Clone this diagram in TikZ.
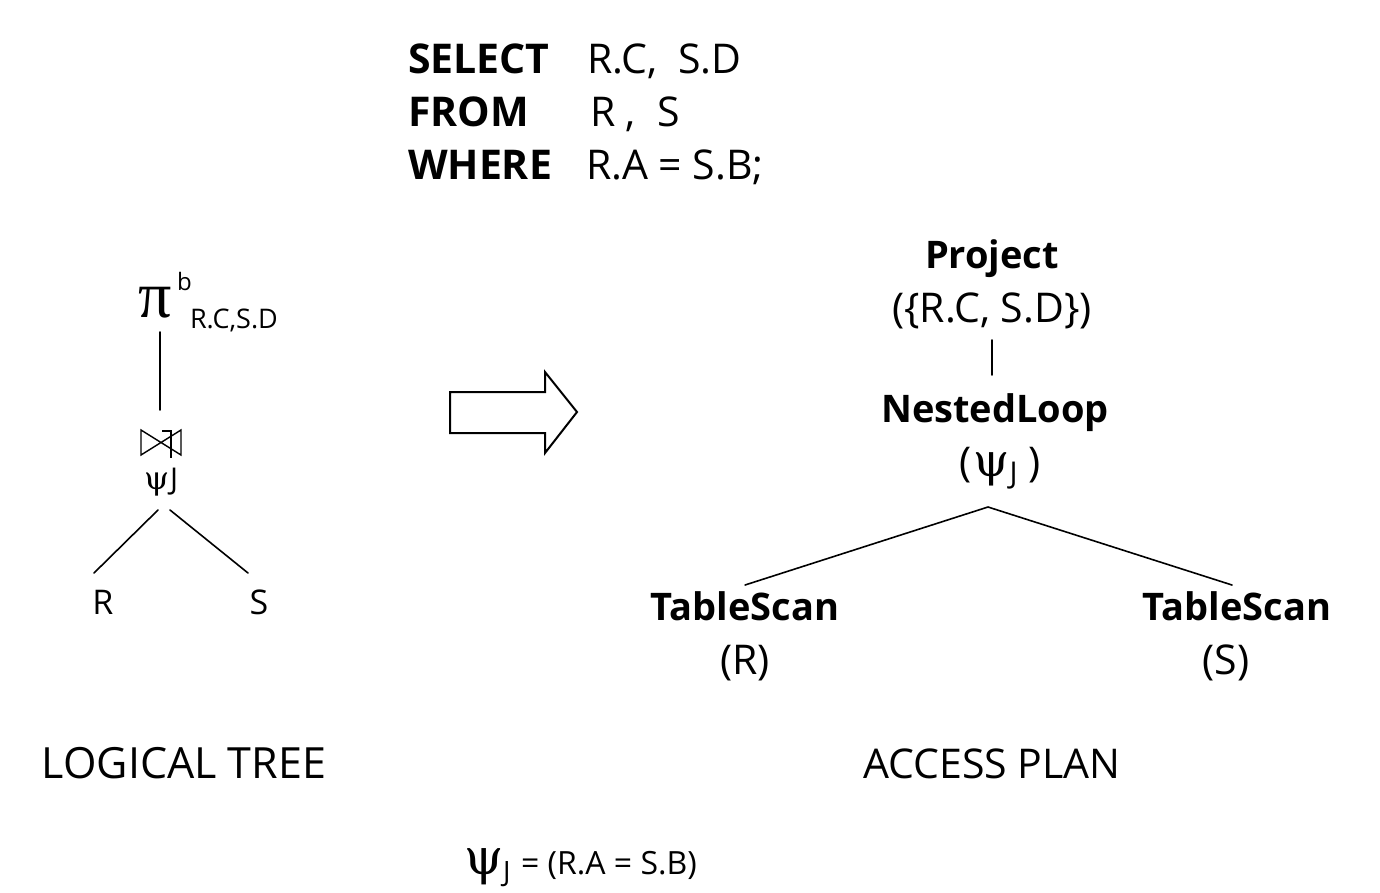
\documentclass[tikz,border=0pt]{standalone}
\usepackage{fontspec}
\setmainfont{Open Sans}
\newfontfamily\grk{DejaVu Serif}
\newfontfamily\grkpi{Liberation Serif}
\begin{document}
\begin{tikzpicture}[x=1pt,y=-1pt,
  txt/.style={inner sep=0pt, outer sep=0pt},
  big/.style={txt, font=\fontsize{41}{48}\selectfont},
  bigb/.style={txt, font=\fontsize{41}{48}\selectfont\bfseries},
  planb/.style={txt, font=\fontsize{38}{44}\selectfont\bfseries},
  conn/.style={line width=1.6pt, line cap=round},
]
\useasboundingbox[fill=white] (0,0) rectangle (1380,892);

% SQL query
\node[bigb, anchor=base west] (sel) at (408,73) {SELECT};
\node[big, anchor=base west] (selv) at (587,73) {R.C,\ \ S.D};
\node[bigb, anchor=base west] (frm) at (408,126) {FROM};
\node[big, anchor=base west] (frmv) at (590,126) {R , \ S};
\node[bigb, anchor=base west] (whr) at (408,179) {WHERE};
\node[big, anchor=base west] (whrv) at (586,179) {R.A = S.B;};

% Logical tree
\node[txt, anchor=base west, font=\fontsize{66}{72}\selectfont\grkpi] (pi) at (138,317) {π};
\node[txt, anchor=base west, font=\fontsize{24}{28}\selectfont] (pib) at (177,290) {b};
\node[txt, anchor=base west, font=\fontsize{27}{30}\selectfont] (pisub) at (190,328) {R.C,S.D};
\coordinate (pibot) at (160,332);
\coordinate (jtop) at (160,410);
\draw[conn] (pibot) -- (jtop);

% join symbol
\coordinate (j1) at (141,430);
\coordinate (j2) at (141,455);
\coordinate (j3) at (181,430);
\coordinate (j4) at (181,455);
\draw[line width=1.4pt, line join=miter] (j1) -- (j4) -- (j3) -- (j2) -- cycle;
\coordinate (s1) at (162,431);
\coordinate (s2) at (171,431);
\coordinate (s3) at (171,458);
\draw[line width=1.4pt] (s1) -- (s2) -- (s3);
\node[txt, anchor=base west, font=\fontsize{30}{34}\selectfont] (psij) at (144,489) {{\grk\fontsize{32}{34}\selectfont ψ}\hspace{1pt}J};

\node[txt, anchor=base, font=\fontsize{34}{40}\selectfont] (R) at (103,614) {R};
\node[txt, anchor=base, font=\fontsize{34}{40}\selectfont] (S) at (259,614) {S};
\coordinate (lj1) at (158,510);
\coordinate (lr) at (94,573);
\coordinate (lj2) at (170,510);
\coordinate (ls) at (248,573);
\draw[conn] (lj1) -- (lr);
\draw[conn] (lj2) -- (ls);

\node[txt, anchor=base, font=\fontsize{43}{50}\selectfont] (lt) at (184,778) {LOGICAL TREE};

% big arrow
\coordinate (a1) at (450,392);
\coordinate (a2) at (545,392);
\coordinate (a3) at (545,372);
\coordinate (a4) at (577,412);
\coordinate (a5) at (545,453);
\coordinate (a6) at (545,433);
\coordinate (a7) at (450,433);
\draw[line width=2pt, line join=miter] (a1) -- (a2) -- (a3) -- (a4) -- (a5) -- (a6) -- (a7) -- cycle;

% Access plan
\node[planb, anchor=base] (proj) at (992,268) {Project};
\node[big, anchor=base] (projv) at (992,322) {(\{R.C, S.D\})};
\coordinate (pl1) at (992,340);
\coordinate (pl2) at (992,375);
\draw[conn] (pl1) -- (pl2);
\node[planb, anchor=base] (nl) at (995,422) {NestedLoop};
\node[big, anchor=base] (nlv) at (1000,476) {(\hspace{2pt}{\grk\fontsize{46}{50}\selectfont ψ}\raisebox{-7pt}{\fontsize{30}{32}\selectfont J}\ )};
\coordinate (apex) at (988,507);
\coordinate (tl) at (745,585);
\coordinate (tr) at (1232,585);
\draw[conn] (tl) -- (apex) -- (tr);
\node[planb, anchor=base] (ts1) at (745,620) {TableScan};
\node[big, anchor=base] (ts1v) at (745,674) {(R)};
\node[planb, anchor=base] (ts2) at (1237,620) {TableScan};
\node[big, anchor=base] (ts2v) at (1226,674) {(S)};

\node[big, anchor=base] (ap) at (992,778) {ACCESS PLAN};

% footnote
\node[txt, anchor=base west, font=\fontsize{32}{36}\selectfont] (foot) at (464,874) {{\grk\fontsize{50}{50}\selectfont ψ}\raisebox{-7pt}{\fontsize{28}{30}\selectfont J}\hspace{2pt} = (R.A = S.B)};
\end{tikzpicture}
\end{document}
